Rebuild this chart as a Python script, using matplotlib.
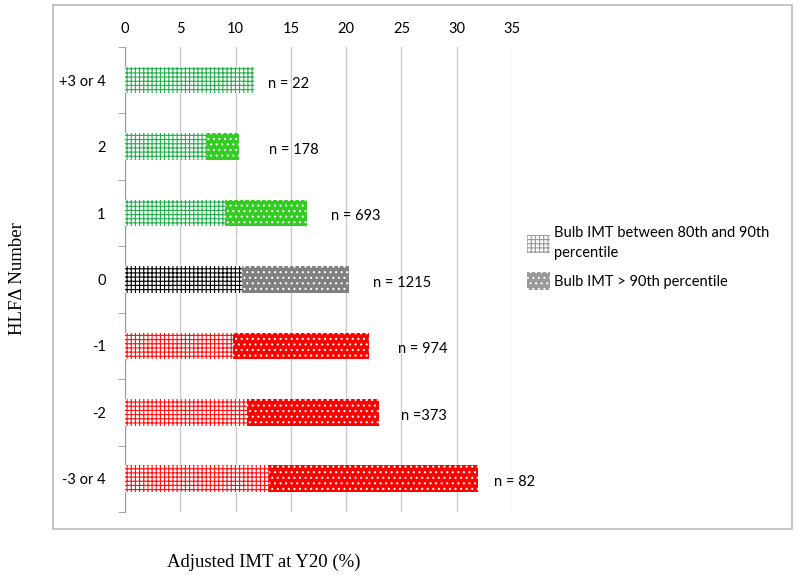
import matplotlib.pyplot as plt
from matplotlib.patches import Patch, Rectangle
import numpy as np

# data
groups = ['+3 or 4', '2', '1', '0', '-1', '-2', '-3 or 4']
between_80_90 = [11.7, 7.3, 9.0, 10.6, 9.8, 11.0, 13.0]
above_90 = [0.0, 3.0, 7.5, 9.65, 12.3, 12.0, 18.9]
n_labels = ['n = 22', 'n = 178', 'n = 693', 'n = 1215', 'n = 974', 'n =373', 'n = 82']
n_label_x = [12.9, 13.0, 18.6, 22.4, 24.7, 25.0, 33.4]

colors = ['#22b04b', '#22b04b', '#22b04b', 'black', '#ff1010', '#ff1010', '#ff1010']
dot_colors = ['#33cc22', '#33cc22', '#33cc22', '#808080', '#ff0000', '#ff0000', '#ff0000']

plt.rcParams['font.family'] = ['Lato', 'DejaVu Sans']
plt.rcParams['hatch.linewidth'] = 0.8

fig = plt.figure(figsize=(8, 5.82), dpi=100)
ax = fig.add_axes([0.15625, 0.1203, 0.48375, 0.7990])

# outer chart frame
fig.patches.append(Rectangle((0.066, 0.091), 0.924, 0.9, transform=fig.transFigure,
                             fill=False, edgecolor='#bbbbbb', linewidth=1.2))

y = np.arange(len(groups))
for i in range(len(groups)):
    ax.barh(y[i], between_80_90[i], height=0.4, color='white', edgecolor=colors[i],
            hatch='++++', linewidth=0, zorder=3)
    if above_90[i] > 0:
        ax.barh(y[i], above_90[i], left=between_80_90[i], height=0.4, color=dot_colors[i],
                edgecolor='white', hatch='...', linewidth=0, zorder=3)
    ax.text(n_label_x[i], y[i] + 0.05, n_labels[i], fontsize=10.5, va='center', ha='left', zorder=4)

ax.set_xlim(0, 35)
ax.set_ylim(len(groups) - 0.5, -0.5)
ax.set_xticks(np.arange(0, 36, 5))
ax.xaxis.tick_top()
ax.tick_params(axis='x', length=0, labelsize=10.5, colors='black', pad=8)
ax.set_yticks(y)
ax.set_yticklabels(groups)
ax.set_yticks(np.arange(-0.5, len(groups), 1), minor=True)
ax.tick_params(axis='y', which='major', length=0, labelsize=10.5, pad=14)
ax.tick_params(axis='y', which='minor', length=5, color='#999999', direction='out')
ax.grid(axis='x', color='#cccccc', linewidth=1, zorder=0)
ax.set_axisbelow(True)
for side in ['top', 'right', 'bottom']:
    ax.spines[side].set_visible(False)
ax.spines['left'].set_color('#999999')

fig.text(0.022, 0.522, 'HLF\u0394 Number', rotation=90, va='center', ha='center',
         fontsize=13.5, family=['Liberation Serif', 'DejaVu Serif'])
fig.text(0.33, 0.034, 'Adjusted IMT at Y20 (%)', va='center', ha='center',
         fontsize=13.5, family=['Liberation Serif', 'DejaVu Serif'])

handles = [Patch(facecolor='white', edgecolor='#999999', hatch='++++', linewidth=0),
           Patch(facecolor='#999999', edgecolor='white', hatch='...', linewidth=0)]
leg = fig.legend(handles, ['Bulb IMT between 80th and 90th\npercentile', 'Bulb IMT > 90th percentile'],
                 loc='center left', bbox_to_anchor=(0.642, 0.556), frameon=False, fontsize=10.5,
                 handlelength=1.6, handleheight=1.6, handletextpad=0.3, labelspacing=0.8)
for t in leg.get_texts():
    t.set_linespacing(1.5)

fig.savefig('out.png', dpi=100)
